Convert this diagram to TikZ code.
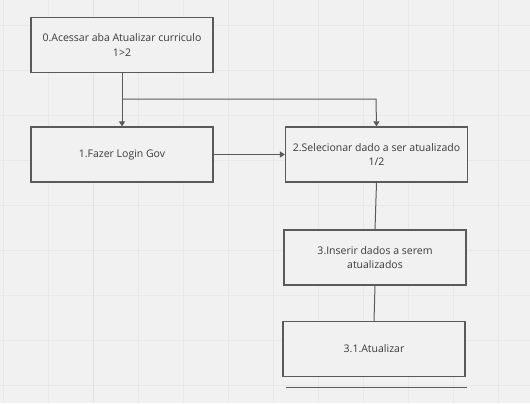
\documentclass[tikz,border=0pt]{standalone}
\usepackage{fontspec}
\setmainfont{Open Sans}
\usetikzlibrary{arrows.meta}
\definecolor{bgc}{HTML}{F1F1F1}
\definecolor{gridc}{HTML}{E8E8E8}
\definecolor{majc}{HTML}{E0E0E0}
\definecolor{edgec}{HTML}{5A5A5A}
\definecolor{txtc}{HTML}{3A3A3A}
\begin{document}
\begin{tikzpicture}[x=1bp,y=-1bp,
  stepbox/.style={draw=edgec,line width=1.2bp,fill=bgc,minimum width=182bp,minimum height=55bp,inner sep=0pt,align=center,font=\fontsize{10.5bp}{14.5bp}\selectfont,text=txtc},
  conn/.style={draw=edgec,line width=1bp},
  arr/.style={conn,-{Triangle[length=5bp,width=6bp]}}]
\fill[bgc] (0,0) rectangle (530,403);
\useasboundingbox (0,0) rectangle (530,403);
\foreach \x in {3,48,...,528} \draw[gridc,line width=0.8bp] (\x,0) -- (\x,403);
\foreach \y in {25,70,...,400} \draw[gridc,line width=0.8bp] (0,\y) -- (530,\y);
\draw[majc,line width=0.9bp] (93,0) -- (93,403);
\node[stepbox] (s0) at (122,45) {0.Acessar aba Atualizar curriculo\\1>2};
\node[stepbox] (s1) at (122,154.5) {1.Fazer Login Gov};
\node[stepbox] (s2) at (376.5,154.5) {2.Selecionar dado a ser atualizado\\1/2};
\node[stepbox] (s3) at (375,257.5) {3.Inserir dados a serem\\atualizados};
\node[stepbox] (s4) at (374,349) {3.1.Atualizar};
\coordinate (b) at (122,99);
\coordinate (c) at (376,99);
\coordinate (l1) at (286,387);
\coordinate (l2) at (467,387);
\draw[arr] (s0.south) -- (s1.north);
\draw[arr] (b) -- (c) -- (s2.north);
\draw[arr] (s1.east) -- (s2.west);
\draw[conn] (s2.south) -- (s3.north);
\draw[conn] (s3.south) -- (s4.north);
\draw[conn] (l1) -- (l2);
\end{tikzpicture}
\end{document}
